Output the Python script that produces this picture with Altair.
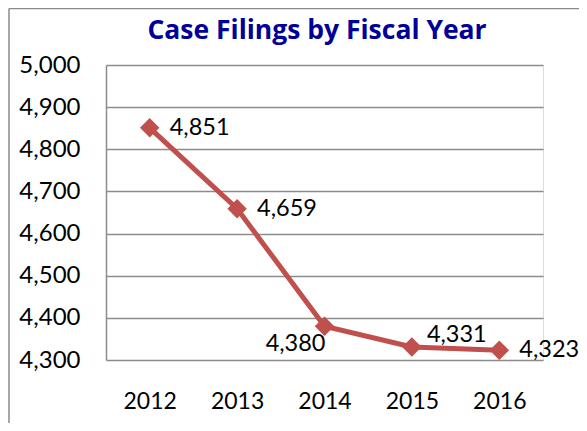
import altair as alt
import pandas as pd

years = ["2012", "2013", "2014", "2015", "2016"]
filings = [4851, 4659, 4380, 4331, 4323]
y_ticks = [4300, 4400, 4500, 4600, 4700, 4800, 4900, 5000]
title_text = "Case Filings by Fiscal Year"

df = pd.DataFrame({"year": years, "filings": filings})

RED = "#C0504D"
GRID = "#8C8C8C"
FONT = "Lato"

x_enc = alt.X("year:N", sort=years,
              scale=alt.Scale(paddingInner=0, paddingOuter=0),
              axis=alt.Axis(title=None, labelAngle=0, ticks=False, domain=False,
                            labelFont=FONT, labelFontSize=23, labelColor="black",
                            labelPadding=30, grid=False))
y_enc = alt.Y("filings:Q",
              scale=alt.Scale(domain=[4300, 5000], nice=False, zero=False),
              axis=alt.Axis(title=None, values=y_ticks, format=",.0f", ticks=False,
                            domainColor=GRID, domainWidth=1.5,
                            gridColor=GRID, gridWidth=1.5,
                            labelFont=FONT, labelFontSize=24, labelColor="black",
                            labelPadding=26))

base = alt.Chart(df)

line = base.mark_line(color=RED, strokeWidth=5).encode(x=x_enc, y=y_enc)
points = base.mark_point(shape="diamond", filled=True, color=RED, size=380, opacity=1).encode(
    x=alt.X("year:N", sort=years), y="filings:Q")

txt_style = dict(font=FONT, fontSize=23.5, color="black", baseline="middle")
label_right = base.transform_filter(
    alt.FieldOneOfPredicate(field="year", oneOf=["2012", "2013", "2016"])
).mark_text(align="left", dx=20, **txt_style).encode(
    x=alt.X("year:N", sort=years), y="filings:Q", text=alt.Text("filings:Q", format=",.0f"))
label_2014 = base.transform_filter(alt.datum.year == "2014").mark_text(
    align="right", dx=1, dy=18, **txt_style).encode(
    x=alt.X("year:N", sort=years), y="filings:Q", text=alt.Text("filings:Q", format=",.0f"))
label_2015 = base.transform_filter(alt.datum.year == "2015").mark_text(
    align="left", dx=15, dy=-12, **txt_style).encode(
    x=alt.X("year:N", sort=years), y="filings:Q", text=alt.Text("filings:Q", format=",.0f"))

one = pd.DataFrame({"t": [title_text]})
border_top = alt.Chart(one).mark_rule(
    color="#8A8A8A", strokeWidth=1.5, clip=False).encode(
    x=alt.value(-97), x2=alt.value(700), y=alt.value(-56.5))
border_left = alt.Chart(one).mark_rule(
    color="#8A8A8A", strokeWidth=1.5, clip=False).encode(
    x=alt.value(-97), y=alt.value(-56.5), y2=alt.value(500))
title = alt.Chart(one).mark_text(
    font="Open Sans", fontSize=26.5, fontWeight="bold", color="#000099",
    align="center", baseline="alphabetic", clip=False).encode(
    x=alt.value(211), y=alt.value(-26), text="t:N")

chart = alt.layer(border_top, border_left, title, line, points,
                  label_right, label_2014, label_2015).properties(
    width=437, height=295,
    autosize=alt.AutoSizeParams(type="none"),
    padding={"left": 98, "top": 57, "right": 36, "bottom": 63},
).configure_view(stroke=None).configure(background="white")

chart.save("out.html", embed_options={"renderer": "svg", "actions": False})
